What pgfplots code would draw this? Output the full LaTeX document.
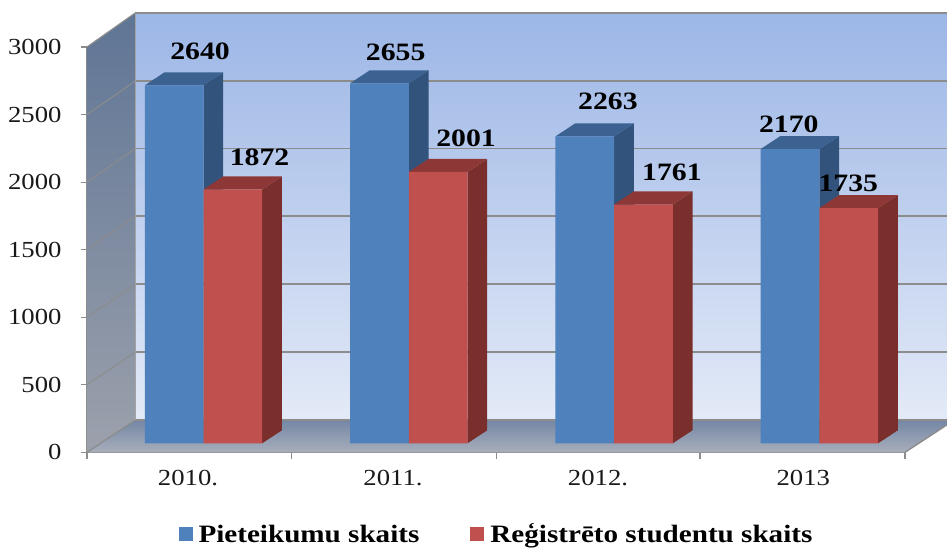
\documentclass[border=0pt]{standalone}
\usepackage{fontspec}
\setmainfont{Liberation Serif}
\newfontfamily\tickf[FakeStretch=1.16]{Liberation Serif}
\newfontfamily\labf[FakeStretch=1.19]{Liberation Serif}
\newfontfamily\legf[FakeStretch=1.165]{Liberation Serif}
\usepackage{pgfplots}
\pgfplotsset{compat=1.18}
\definecolor{axgray}{HTML}{8C8C8C}
\definecolor{bluef}{HTML}{4F81BD}
\definecolor{bluet}{HTML}{3C6291}
\definecolor{blues}{HTML}{32537C}
\definecolor{redf}{HTML}{C0504D}
\definecolor{redt}{HTML}{8D3836}
\definecolor{reds}{HTML}{7A2F2D}
\begin{document}
\begin{tikzpicture}
\useasboundingbox (-87pt,-94.7pt) rectangle (860pt,452.3pt);
\clip (-87pt,-94.7pt) rectangle (860pt,452.3pt);
% base axis: x in picture columns, y in values; holds walls, grid, ticks
\begin{axis}[
  at={(0,0)}, anchor=south west, scale only axis, width=818pt, height=405.3pt,
  xmin=87, xmax=905, ymin=0, ymax=3000, clip=false,
  axis x line*=bottom, axis y line*=left, axis line style={-,draw=axgray,line width=1.6pt},
  xtick={188,393,598,803.3}, xticklabels={2010.,2011.,2012.,2013},
  minor xtick={87,291.7,496.7,700,905},
  ytick={0,500,1000,1500,2000,2500,3000},
  major x tick style={draw=none},
  minor tick length=7pt,
  major tick length=6pt,
  tick align=outside,
  every tick/.style={draw=axgray,line width=1.2pt},
  /pgf/number format/1000 sep={},
  /pgf/number format/assume math mode=true,
  scaled y ticks=false,
  tick label style={font=\tickf\fontsize{23}{26}\selectfont,text=black!90},
  xticklabel style={yshift=-8pt},
  yticklabel style={xshift=-16pt},
]
% back wall
\path[top color={rgb,255:red,156;green,182;blue,230},bottom color={rgb,255:red,227;green,234;blue,247}]
  (axis cs:135.3,239) rectangle (axis cs:960,3252);
% floor
\path[top color={rgb,255:red,116;green,135;blue,165},bottom color={rgb,255:red,168;green,174;blue,187}]
  (axis cs:87,0) -- (axis cs:135.3,239) -- (axis cs:960,239) -- (axis cs:954.3,239) -- (axis cs:905,0) -- cycle;
% side wall
\path[top color={rgb,255:red,95;green,117;blue,149},bottom color={rgb,255:red,156;green,161;blue,172}]
  (axis cs:87,3000) -- (axis cs:135.3,3252) -- (axis cs:135.3,239) -- (axis cs:87,0) -- cycle;
% grid on the back wall
\draw[axgray,line width=1.8pt] (axis cs:135.3,742) -- (axis cs:960,742);
\draw[axgray,line width=1.8pt] (axis cs:135.3,1243) -- (axis cs:960,1243);
\draw[axgray,line width=1.8pt] (axis cs:135.3,1747) -- (axis cs:960,1747);
\draw[axgray,line width=1.8pt] (axis cs:135.3,2249) -- (axis cs:960,2249);
\draw[axgray,line width=1.8pt] (axis cs:135.3,2748) -- (axis cs:960,2748);
\draw[axgray,line width=1.4pt] (axis cs:135.3,239) -- (axis cs:960,239);
\draw[axgray,line width=1.4pt] (axis cs:135.3,3252) -- (axis cs:960,3252);
\draw[axgray!80,line width=1.2pt] (axis cs:135.3,239) -- (axis cs:135.3,3252);
% grid on the side wall
\draw[axgray,line width=1pt] (axis cs:87,500) -- (axis cs:135.3,742);
\draw[axgray,line width=1pt] (axis cs:87,1000) -- (axis cs:135.3,1243);
\draw[axgray,line width=1pt] (axis cs:87,1500) -- (axis cs:135.3,1747);
\draw[axgray,line width=1pt] (axis cs:87,2000) -- (axis cs:135.3,2249);
\draw[axgray,line width=1pt] (axis cs:87,2500) -- (axis cs:135.3,2748);
\draw[axgray,line width=1.2pt] (axis cs:87,3000) -- (axis cs:135.3,3252);
\draw[axgray,line width=1.2pt] (axis cs:87,0) -- (axis cs:135.3,239);
\draw[axgray,line width=1.4pt] (axis cs:905,0) -- (axis cs:954.3,239);
\end{axis}
% bar axis: same size, raised to the plane the bars stand on
\begin{axis}[
  at={(0,9pt)}, anchor=south west, scale only axis, width=818pt, height=405.3pt,
  xmin=-0.5675, xmax=3.417, ymin=0, ymax=2989, clip=false, hide axis,
  legend columns=2,
  legend style={at={(0.108,-0.224)},anchor=west,draw=none,fill=none,
    font=\legf\bfseries\fontsize{25}{28}\selectfont,
    /tikz/every odd column/.append style={column sep=4pt},
    /tikz/every even column/.append style={column sep=49pt}},
  legend image code/.code={\fill[#1] (0pt,-7pt) rectangle (14pt,7pt);},
]
% blue depth faces
\addplot[forget plot,fill=blues,draw=none] coordinates {(0,0)(0.096,96)(0.096,2736)(0,2640)} --cycle;
\addplot[forget plot,fill=bluet,draw=none] coordinates {(-0.286,2640)(-0.19,2736)(0.096,2736)(0,2640)} --cycle;
\addplot[forget plot,fill=blues,draw=none] coordinates {(1,0)(1.096,96)(1.096,2751)(1,2655)} --cycle;
\addplot[forget plot,fill=bluet,draw=none] coordinates {(0.714,2655)(0.81,2751)(1.096,2751)(1,2655)} --cycle;
\addplot[forget plot,fill=blues,draw=none] coordinates {(2,0)(2.096,96)(2.096,2359)(2,2263)} --cycle;
\addplot[forget plot,fill=bluet,draw=none] coordinates {(1.714,2263)(1.81,2359)(2.096,2359)(2,2263)} --cycle;
\addplot[forget plot,fill=blues,draw=none] coordinates {(3,0)(3.096,96)(3.096,2266)(3,2170)} --cycle;
\addplot[forget plot,fill=bluet,draw=none] coordinates {(2.714,2170)(2.81,2266)(3.096,2266)(3,2170)} --cycle;
% red depth faces
\addplot[forget plot,fill=reds,draw=none] coordinates {(0.286,0)(0.382,96)(0.382,1968)(0.286,1872)} --cycle;
\addplot[forget plot,fill=redt,draw=none] coordinates {(0,1872)(0.096,1968)(0.382,1968)(0.286,1872)} --cycle;
\addplot[forget plot,fill=reds,draw=none] coordinates {(1.286,0)(1.382,96)(1.382,2097)(1.286,2001)} --cycle;
\addplot[forget plot,fill=redt,draw=none] coordinates {(1,2001)(1.096,2097)(1.382,2097)(1.286,2001)} --cycle;
\addplot[forget plot,fill=reds,draw=none] coordinates {(2.286,0)(2.382,96)(2.382,1857)(2.286,1761)} --cycle;
\addplot[forget plot,fill=redt,draw=none] coordinates {(2,1761)(2.096,1857)(2.382,1857)(2.286,1761)} --cycle;
\addplot[forget plot,fill=reds,draw=none] coordinates {(3.286,0)(3.382,96)(3.382,1831)(3.286,1735)} --cycle;
\addplot[forget plot,fill=redt,draw=none] coordinates {(3,1735)(3.096,1831)(3.382,1831)(3.286,1735)} --cycle;
% front faces
\addplot[ybar,bar width=58.7pt,bar shift=-29.35pt,fill=bluef,draw=none]
  coordinates {(0,2640)(1,2655)(2,2263)(3,2170)};
\addlegendentry{Pieteikumu skaits}
\addplot[ybar,bar width=58.7pt,bar shift=29.35pt,fill=redf,draw=none]
  coordinates {(0,1872)(1,2001)(2,1761)(3,1735)};
\addlegendentry{Reģistrēto studentu skaits}
% value labels
\begin{scope}[every node/.style={font=\labf\bfseries\fontsize{25}{28}\selectfont,anchor=center,inner sep=0pt}]
\node at (axis cs:-0.017,2888) {2640};
\node at (axis cs:0.273,2111) {1872};
\node at (axis cs:0.936,2886) {2655};
\node at (axis cs:1.279,2251) {2001};
\node at (axis cs:1.970,2519) {2263};
\node at (axis cs:2.282,2001) {1761};
\node at (axis cs:2.851,2353) {2170};
\node at (axis cs:3.141,1915) {1735};
\end{scope}
\end{axis}
\end{tikzpicture}
\end{document}
